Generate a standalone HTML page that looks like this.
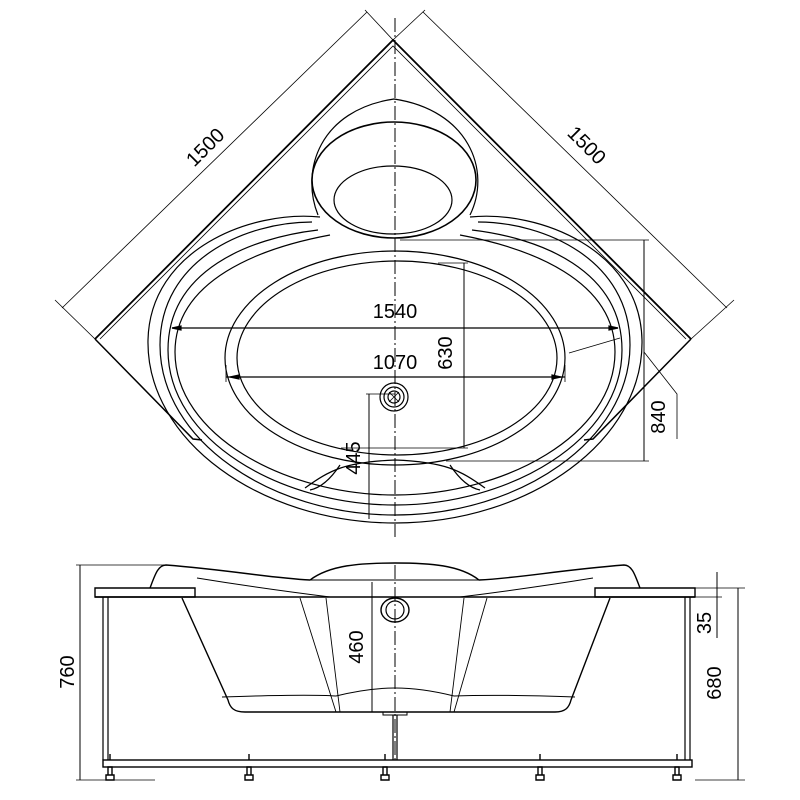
<!DOCTYPE html>
<html><head><style>html,body{margin:0;padding:0;background:#fff}svg{display:block}text{font-family:"Liberation Sans",Arial,sans-serif;font-size:20px;fill:#000;stroke:none}</style></head><body>
<svg width="800" height="800" viewBox="0 0 800 800" xmlns="http://www.w3.org/2000/svg" fill="none" stroke="#000" stroke-width="1.2">
<line x1="395" y1="18" x2="395" y2="537" stroke-dasharray="14,3,2,3" stroke-width="1"/>
<path d="M95,339 L393,40 L691,339" stroke-width="1.8"/>
<path d="M100,339 L393,46 L686,339" stroke-width="0.8"/>
<path d="M95,339 L193,439 L202,440" stroke-width="1.5"/>
<path d="M691,339 L593,439 L584,440" stroke-width="1.5"/>
<line x1="62" y1="308" x2="367" y2="12" stroke-width="0.8"/>
<line x1="423" y1="12" x2="727" y2="308" stroke-width="0.8"/>
<line x1="95" y1="339" x2="55" y2="300" stroke-width="0.8"/>
<line x1="691" y1="339" x2="734" y2="300" stroke-width="0.8"/>
<line x1="393" y1="40" x2="365" y2="10" stroke-width="0.8"/>
<line x1="393" y1="40" x2="425" y2="10" stroke-width="0.8"/>
<text transform="translate(210,152) rotate(-45)" text-anchor="middle">1500</text>
<text transform="translate(582,150) rotate(45)" text-anchor="middle">1500</text>
<path d="M318,215 C300,170 320,110 394,99 C468,110 492,170 470,215"/>
<ellipse cx="394" cy="180" rx="82" ry="58" stroke-width="1.6"/>
<ellipse cx="393" cy="200" rx="59" ry="34"/>
<path d="M320,217 C250,210 150,250 148,340 C146,440 260,523 395,523 C530,523 644,440 642,340 C640,250 540,210 470,217"/>
<path d="M312,222 C245,222 160,260 160,345 C160,440 270,515 395,515 C520,515 630,440 630,345 C630,260 545,222 478,222"/>
<path d="M318,230 C250,238 168,270 168,350 C168,440 280,505 395,505 C510,505 622,440 622,350 C622,270 540,238 472,230"/>
<path d="M330,235 C260,248 175,280 175,352 C175,435 285,495 395,495 C505,495 615,435 615,352 C615,280 530,248 460,235"/>
<ellipse cx="395" cy="358" rx="170" ry="107"/>
<ellipse cx="397" cy="358" rx="160" ry="97"/>
<path d="M305,488 C330,470 345,462 395,460 C445,462 460,470 485,488"/>
<path d="M340,465 C330,480 320,488 310,490 M450,465 C460,480 470,488 480,490"/>
<circle cx="394" cy="397" r="14"/><circle cx="394" cy="397" r="10"/><circle cx="394" cy="397" r="6"/>
<path d="M389,392 L399,402 M399,392 L389,402" stroke-width="0.8"/>
<line x1="172" y1="328" x2="618" y2="328"/>
<path d="M172,328 l9,-2 v4z M618,328 l-9,-2 v4z" fill="#000"/>
<text x="395" y="318" text-anchor="middle">1540</text>
<line x1="226" y1="377" x2="565" y2="377"/>
<path d="M230,377 l9,-2 v4z M561,377 l-9,-2 v4z" fill="#000"/>
<line x1="226" y1="365" x2="226" y2="382" stroke-width="0.8"/><line x1="565" y1="365" x2="565" y2="382" stroke-width="0.8"/>
<text x="395" y="369" text-anchor="middle">1070</text>
<line x1="569" y1="353" x2="620" y2="338" stroke-width="0.8"/>
<line x1="464" y1="263" x2="464" y2="448" stroke-width="1"/>
<line x1="438" y1="263" x2="468" y2="263" stroke-width="0.8"/>
<line x1="341" y1="448" x2="468" y2="448" stroke-width="0.8"/>
<text transform="translate(452,353) rotate(-90)" text-anchor="middle">630</text>
<line x1="644" y1="240" x2="644" y2="461" stroke-width="1"/>
<line x1="400" y1="240" x2="649" y2="240" stroke-width="0.8"/>
<line x1="446" y1="461" x2="649" y2="461" stroke-width="0.8"/>
<text transform="translate(665,417) rotate(-90)" text-anchor="middle">840</text>
<path d="M644,352 L677,394 L677,439" stroke-width="0.8"/>
<line x1="369" y1="394" x2="369" y2="519" stroke-width="1"/>
<line x1="366" y1="394" x2="395" y2="394" stroke-width="0.8"/>
<text transform="translate(360,458) rotate(-90)" text-anchor="middle">445</text>

<line x1="395" y1="565" x2="395" y2="760" stroke-dasharray="14,3,2,3" stroke-width="1"/>
<path d="M95,588 L195,588 L195,597 L95,597 Z" stroke-width="1.4"/>
<path d="M595,588 L695,588 L695,597 L595,597 Z" stroke-width="1.4"/>
<line x1="95" y1="597" x2="695" y2="597" stroke-width="1.5"/>
<path d="M150,588 C155,575 158,565 166,565 C230,570 270,578 310,580 C330,565 360,563 395,563 C430,563 460,565 479,580 C520,578 560,570 624,565 C632,565 635,575 640,588" stroke-width="1.4"/>
<path d="M197,578 C240,585 290,592 330,597 M593,578 C550,585 500,592 460,597" stroke-width="1"/>
<line x1="310" y1="580" x2="479" y2="580" stroke-width="1"/>
<path d="M182,598 L228,700 C230,708 234,712 245,712 L555,712 C565,712 569,708 571,700 L610,598" stroke-width="1.4"/>
<path d="M222,697 C280,695 320,695 336,696 M454,696 C480,695 520,695 575,697" stroke-width="1"/>
<path d="M336,696 C360,690 380,688 395,688 C410,688 430,690 454,696" stroke-width="1"/>
<path d="M300,598 L336,712 M326,598 L340,712 M487,598 L454,712 M464,598 L450,712" stroke-width="0.9"/>
<ellipse cx="395" cy="610" rx="14" ry="12" stroke-width="1.4"/><ellipse cx="395" cy="610" rx="9" ry="9"/>
<path d="M383,712 h24 v3 h-24z" stroke-width="1"/>
<line x1="393" y1="715" x2="393" y2="760"/><line x1="397" y1="715" x2="397" y2="760"/>
<line x1="103" y1="597" x2="103" y2="760"/><line x1="108" y1="597" x2="108" y2="760"/>
<line x1="685" y1="597" x2="685" y2="760"/><line x1="690" y1="597" x2="690" y2="760"/>
<rect x="103" y="760" width="589" height="7" stroke-width="1.4"/>
<g stroke-width="1.4">
<path d="M110,754v6 M108,767h4v8h-4z M106,775h8v5h-8z"/>
<path d="M249,754v6 M247,767h4v8h-4z M245,775h8v5h-8z"/>
<path d="M385,754v6 M383,767h4v8h-4z M381,775h8v5h-8z"/>
<path d="M540,754v6 M538,767h4v8h-4z M536,775h8v5h-8z"/>
<path d="M677,754v6 M675,767h4v8h-4z M673,775h8v5h-8z"/>
</g>
<line x1="80" y1="565" x2="80" y2="780" stroke-width="1"/>
<line x1="76" y1="565" x2="164" y2="565" stroke-width="0.8"/>
<line x1="76" y1="780" x2="155" y2="780" stroke-width="0.8"/>
<text transform="translate(74,672) rotate(-90)" text-anchor="middle">760</text>
<line x1="738" y1="588" x2="738" y2="780" stroke-width="1"/>
<line x1="695" y1="588" x2="745" y2="588" stroke-width="0.8"/>
<line x1="695" y1="780" x2="745" y2="780" stroke-width="0.8"/>
<text transform="translate(721,683) rotate(-90)" text-anchor="middle">680</text>
<line x1="717" y1="572" x2="717" y2="638" stroke-width="1"/>
<line x1="695" y1="597" x2="722" y2="597" stroke-width="0.8"/>
<text transform="translate(711,623) rotate(-90)" text-anchor="middle">35</text>
<line x1="372" y1="582" x2="372" y2="712" stroke-width="1"/>
<text transform="translate(363,647) rotate(-90)" text-anchor="middle">460</text>
</svg>
</body></html>
